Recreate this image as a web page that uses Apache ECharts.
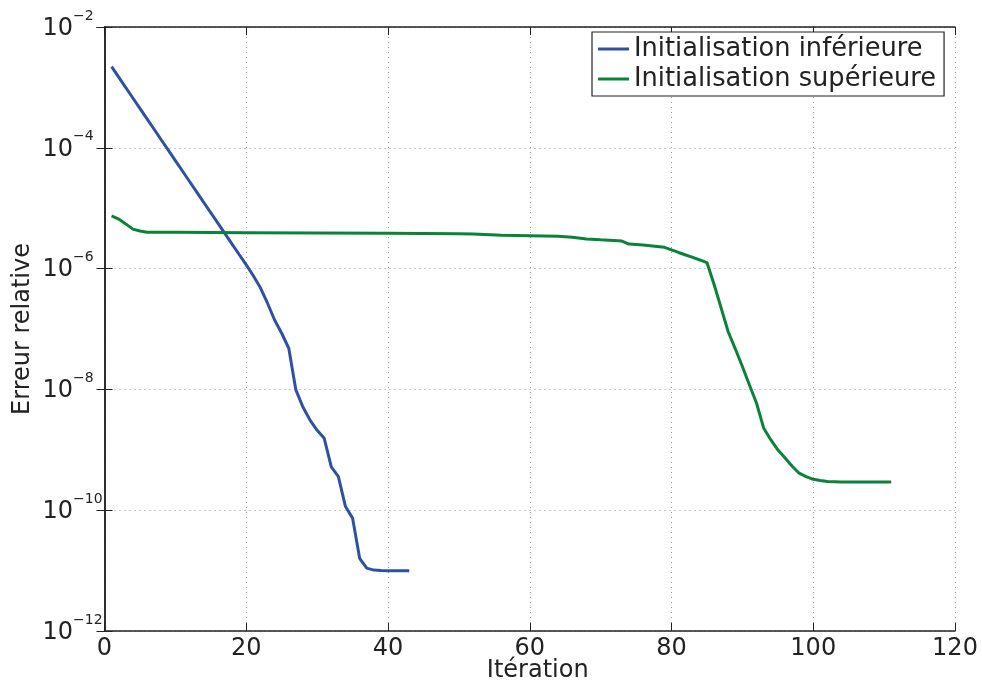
<!DOCTYPE html>
<html><head><meta charset="utf-8">
<script src="https://cdn.jsdelivr.net/npm/echarts@6/dist/echarts.min.js"></script>
<style>html,body{margin:0;padding:0;background:#fff}#c{width:982px;height:689px}</style>
</head><body><div id="c"></div>
<script>
const seriesNames = ['Initialisation inférieure', 'Initialisation supérieure'];
const lowerIter = [1,2,3,4,5,6,7,8,9,10,11,12,13,14,15,16,17,18,19,20,21,22,23,24,25,26,27,28,29,30,31,32,33,34,35,36,37,38,39,40,41,42,43];
const lowerErr = [2.2e-3,1.48e-3,9.95e-4,6.68e-4,4.49e-4,3.02e-4,2.03e-4,1.36e-4,9.15e-5,6.15e-5,
  4.13e-5,2.77e-5,1.86e-5,1.25e-5,8.41e-6,5.65e-6,3.80e-6,2.55e-6,1.71e-6,1.15e-6,
  7.6e-7,4.8e-7,2.67e-7,1.41e-7,8.5e-8,4.8e-8,9.8e-9,5.1e-9,3.1e-9,2.1e-9,
  1.55e-9,5.2e-10,3.6e-10,1.15e-10,7.4e-11,1.6e-11,1.1e-11,1.02e-11,1.0e-11,9.9e-12,
  9.9e-12,9.9e-12,9.9e-12];
const upperIter = [1,2,3,4,5,6,10,20,30,40,50,52,56,60,64,66,68,70,73,74,76,79,80,81,82,83,84,85,86,87,88,89,90,91,92,93,94,95,96,97,98,99,100,101,102,104,111];
const upperErr = [7.43e-6,6.6e-6,5.5e-6,4.5e-6,4.2e-6,4.0e-6,3.98e-6,3.94e-6,3.9e-6,3.84e-6,3.78e-6,
  3.74e-6,3.56e-6,3.5e-6,3.43e-6,3.3e-6,3.1e-6,3.0e-6,2.86e-6,2.55e-6,2.45e-6,2.25e-6,
  2.04e-6,1.85e-6,1.68e-6,1.53e-6,1.39e-6,1.26e-6,5.5e-7,2.24e-7,9.0e-8,4.7e-8,2.4e-8,1.18e-8,5.9e-9,
  2.3e-9,1.47e-9,1.0e-9,7.4e-10,5.4e-10,4.1e-10,3.6e-10,3.25e-10,3.1e-10,2.98e-10,2.93e-10,2.93e-10];
const xTicks = [0,20,40,60,80,100,120];
const yTickExponents = [-12,-10,-8,-6,-4,-2];
const xName = 'Itération';
const yName = 'Erreur relative';

const FONT = '"DejaVu Sans", sans-serif';
const TXT = '#222';
const chart = echarts.init(document.getElementById('c'), null, {renderer: 'canvas'});

const yMin = Math.pow(10, yTickExponents[0]);
const yMax = Math.pow(10, yTickExponents[yTickExponents.length - 1]);

function yLabel(v) {
  const e = Math.round(Math.log10(v));
  if (yTickExponents.indexOf(e) < 0) return '';
  return '{b|10}{s|' + (e < 0 ? '\u2212' : '') + Math.abs(e) + '}';
}

const frameLine = {show: true, lineStyle: {color: '#222', width: 1.5}};
const tickIn = {show: true, inside: true, length: 8, lineStyle: {color: '#222', width: 1}};
const grid = {type: [1, 4], color: '#999', width: 1};

chart.setOption({
  backgroundColor: '#fff',
  animation: false,
  grid: {left: 104.5, top: 27, right: 27, bottom: 58, containLabel: false, outerBoundsMode: 'none'},
  legend: {
    orient: 'vertical', left: 592, top: 32,
    data: seriesNames,
    icon: 'rect', itemWidth: 31, itemHeight: 3, itemGap: 4,
    padding: [4, 8, 4, 6],
    borderColor: '#222', borderWidth: 1.2, borderRadius: 0,
    backgroundColor: '#fff',
    textStyle: {fontFamily: FONT, fontSize: 25.7, color: TXT, lineHeight: 26}
  },
  xAxis: [{
    type: 'value', min: xTicks[0], max: xTicks[xTicks.length - 1], interval: 20,
    name: xName, nameLocation: 'middle', nameGap: 28, nameMoveOverlap: false,
    nameTextStyle: {fontFamily: FONT, fontSize: 24, color: TXT, padding: [0, 0, 0, 16]},
    axisLine: frameLine, axisTick: tickIn,
    axisLabel: {fontFamily: FONT, fontSize: 24, color: TXT, margin: 6},
    splitLine: {show: true, lineStyle: grid}
  }, {
    type: 'value', position: 'top', min: xTicks[0], max: xTicks[xTicks.length - 1], interval: 20,
    axisLine: frameLine, axisTick: tickIn, axisLabel: {show: false}, splitLine: {show: false}
  }],
  yAxis: [{
    type: 'log', logBase: 10, min: yMin, max: yMax, interval: 2,
    name: yName, nameLocation: 'middle', nameGap: 70, nameRotate: 90, nameMoveOverlap: false,
    nameTextStyle: {fontFamily: FONT, fontSize: 24, color: TXT},
    axisLine: frameLine, axisTick: tickIn, minorTick: {show: false},
    axisLabel: {
      margin: 62, align: 'left', formatter: yLabel, color: TXT,
      rich: {
        b: {fontFamily: FONT, fontSize: 24, lineHeight: 24, color: TXT, padding: [8.5, 0, 5.5, 0]},
        s: {fontFamily: FONT, fontSize: 14, lineHeight: 16, color: TXT, padding: [0, 0, 22, 0]}
      }
    },
    splitLine: {show: true, lineStyle: grid}
  }, {
    type: 'log', logBase: 10, min: yMin, max: yMax, interval: 2, position: 'right',
    axisLine: frameLine, axisTick: tickIn, axisLabel: {show: false}, splitLine: {show: false}
  }],
  series: [{
    name: seriesNames[0], type: 'line', xAxisIndex: 0, yAxisIndex: 0,
    data: lowerIter.map((x, i) => [x, lowerErr[i]]),
    showSymbol: false, symbol: 'none', smooth: false,
    lineStyle: {color: '#2f50a3', width: 3}, itemStyle: {color: '#2f50a3'}
  }, {
    name: seriesNames[1], type: 'line', xAxisIndex: 0, yAxisIndex: 0,
    data: upperIter.map((x, i) => [x, upperErr[i]]),
    showSymbol: false, symbol: 'none', smooth: false,
    lineStyle: {color: '#0b8239', width: 3}, itemStyle: {color: '#0b8239'}
  }]
});
</script></body></html>
